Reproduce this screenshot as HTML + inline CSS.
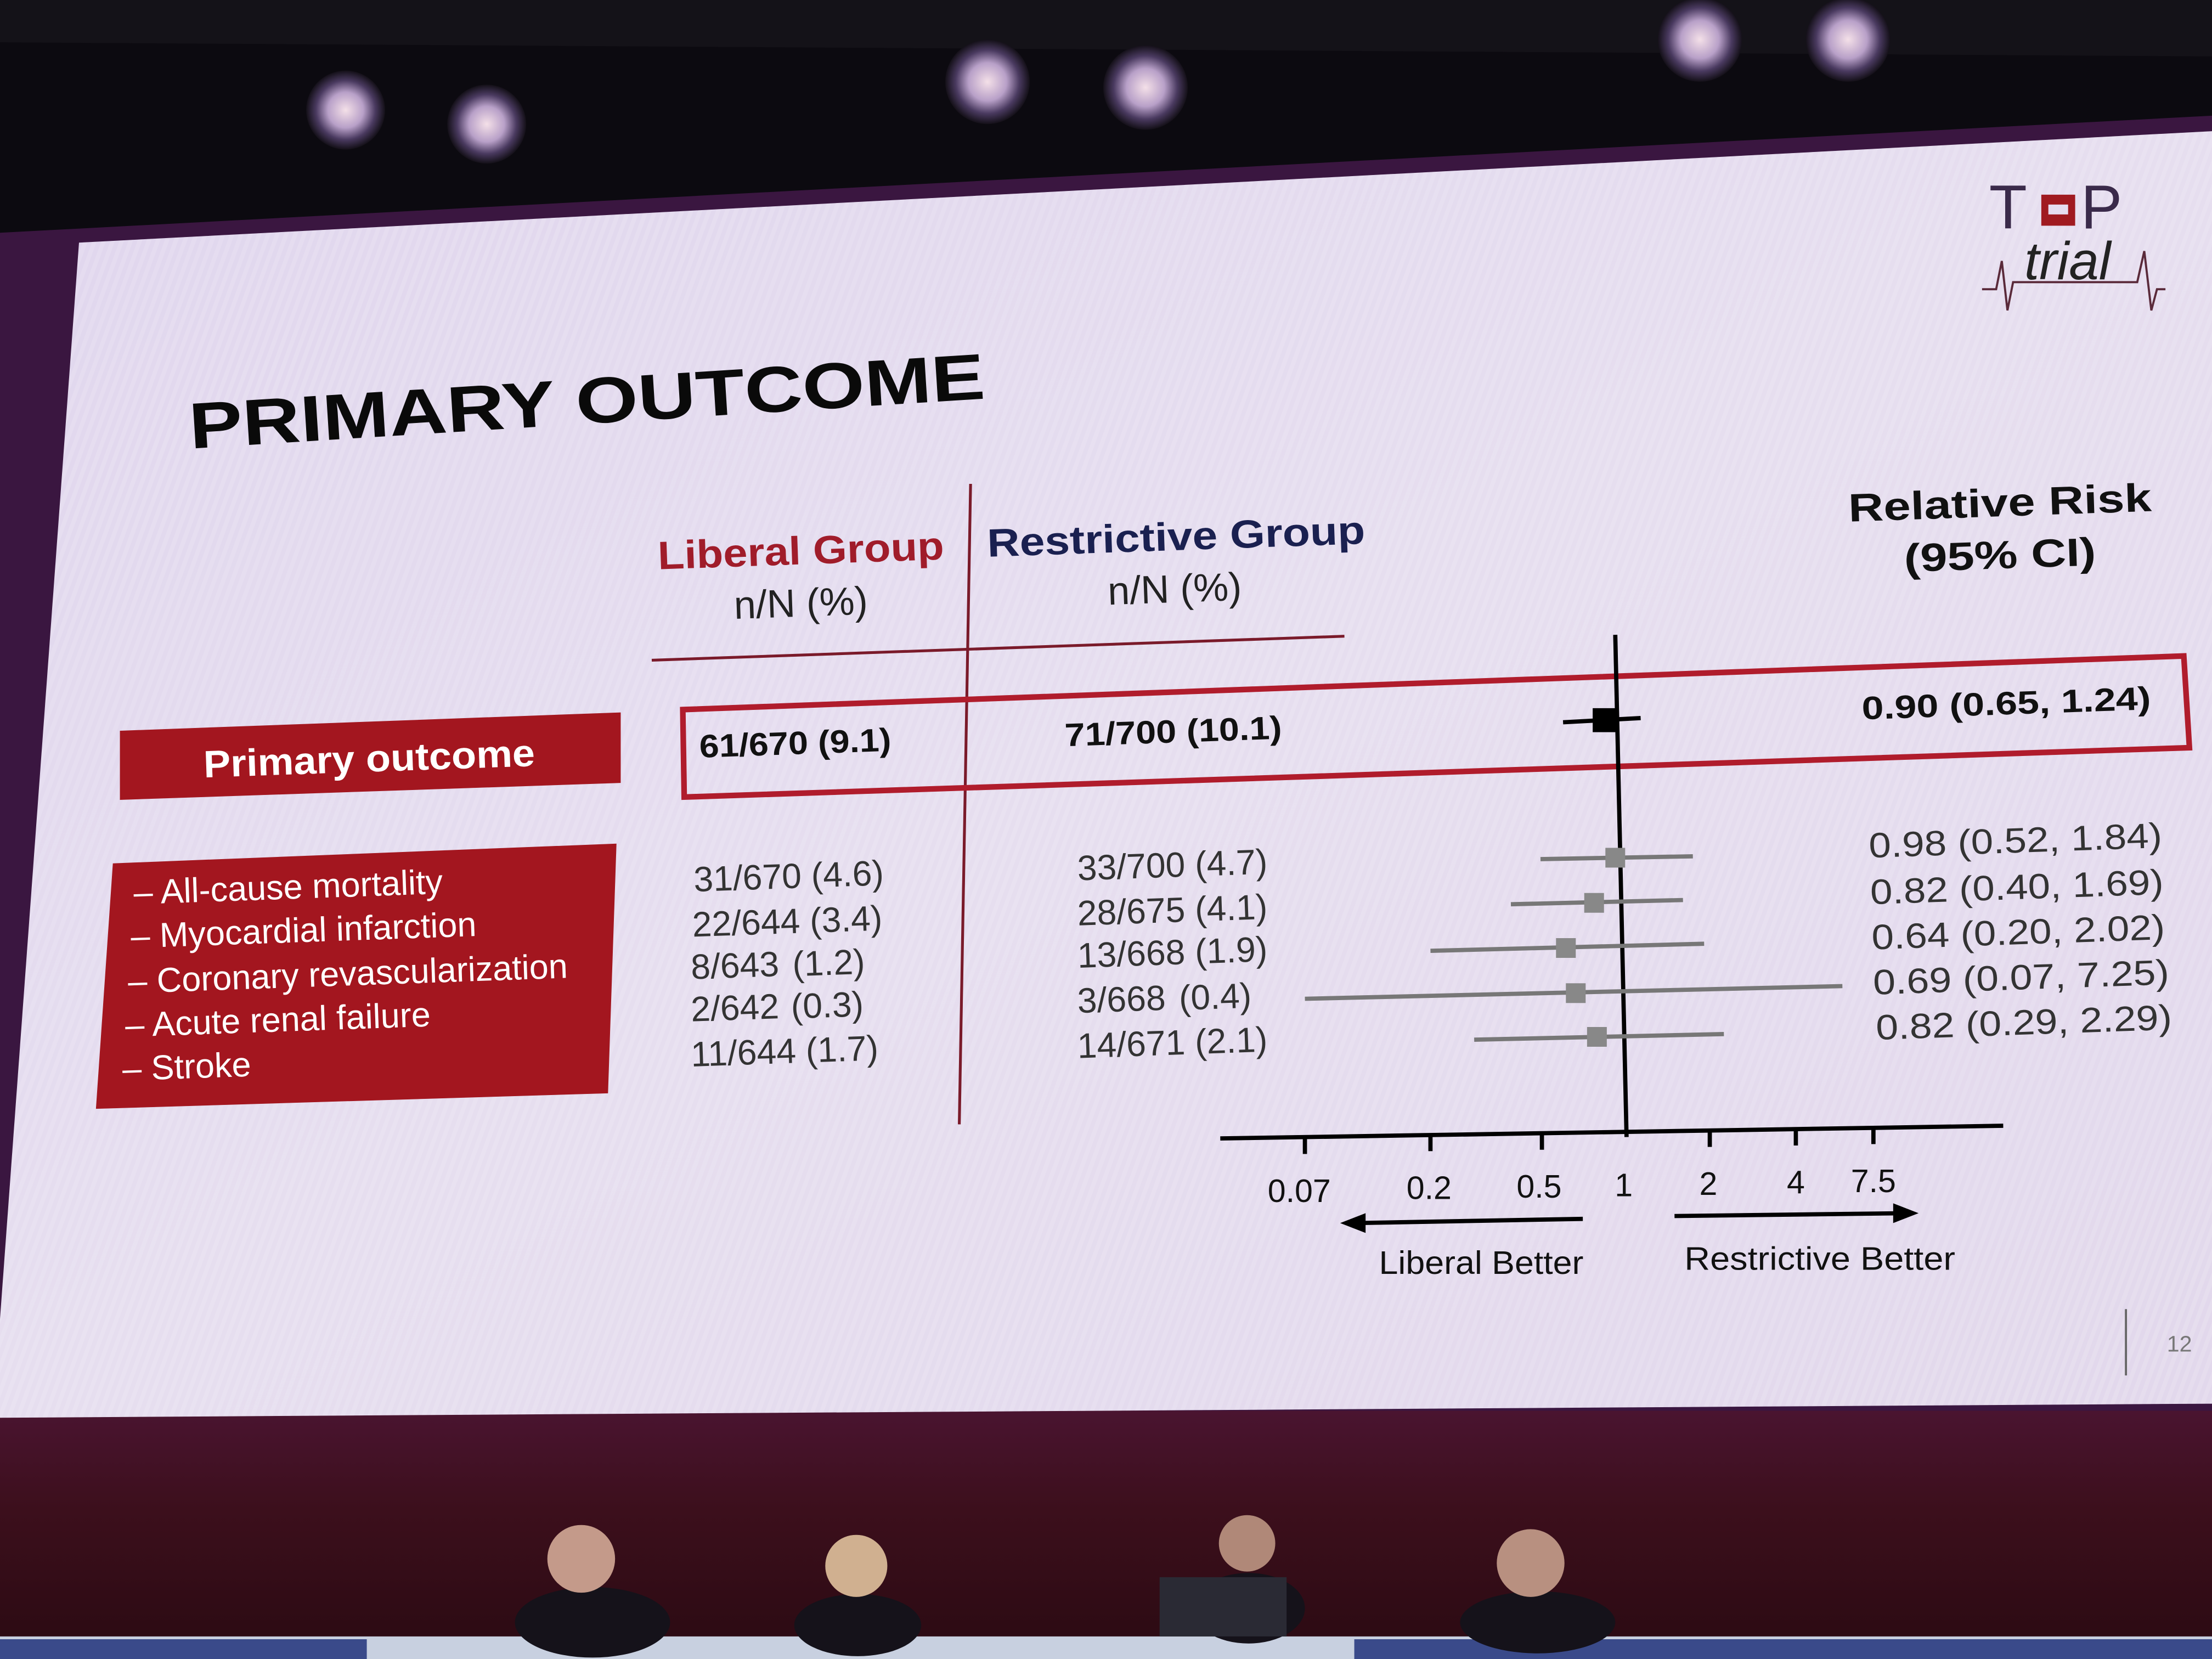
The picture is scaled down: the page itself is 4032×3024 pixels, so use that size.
<!DOCTYPE html>
<html><head><meta charset="utf-8"><style>
html,body{margin:0;padding:0;background:#0c0a10;}
svg{display:block;}
text{font-family:"Liberation Sans",Arial,sans-serif;}
</style></head><body>
<svg width="4032" height="3024" viewBox="0 0 1568 1176" xmlns="http://www.w3.org/2000/svg">
<defs>
<radialGradient id="lt" cx="50%" cy="50%" r="50%"><stop offset="0" stop-color="#f4e0e8"/><stop offset="0.45" stop-color="#b8a0c8"/><stop offset="0.75" stop-color="#4a3a60"/><stop offset="1" stop-color="#141018"/></radialGradient>
<linearGradient id="scr" x1="0" y1="0" x2="1" y2="1"><stop offset="0" stop-color="#e0d6ee"/><stop offset="0.5" stop-color="#e6deef"/><stop offset="1" stop-color="#e2d8ec"/></linearGradient>
<linearGradient id="btm" x1="0" y1="0" x2="0" y2="1"><stop offset="0" stop-color="#4a1430"/><stop offset="0.4" stop-color="#3c0f1c"/><stop offset="1" stop-color="#2a0a12"/></linearGradient>
<pattern id="str" width="6" height="6" patternUnits="userSpaceOnUse" patternTransform="rotate(20)"><rect width="3" height="6" fill="#ffffff" opacity="0.12"/></pattern>
</defs>
<rect width="1568" height="1176" fill="#0c0a10"/>
<polygon points="0,0 1568,0 1568,40 0,30" fill="#141218"/>
<g fill="url(#lt)">
<circle cx="245" cy="78" r="28"/><circle cx="345" cy="88" r="28"/>
<circle cx="700" cy="58" r="30"/><circle cx="812" cy="62" r="30"/>
<circle cx="1205" cy="28" r="30"/><circle cx="1310" cy="28" r="30"/>
</g>
<polygon points="0,165 1568,82 1568,1010 0,1015" fill="#3a1640"/>
<rect x="0" y="1000" width="1568" height="176" fill="url(#btm)"/>
<polygon points="56,172 1568,93 1568,995 0,1005 0,935" fill="url(#scr)"/>
<polygon points="56,172 1568,93 1568,995 0,1005 0,935" fill="url(#str)"/>
<!-- stage -->
<rect x="0" y="1160" width="1568" height="16" fill="#c8d0e0"/>
<rect x="0" y="1162" width="260" height="14" fill="#3a4a8a"/>
<rect x="960" y="1162" width="608" height="14" fill="#3a4a8a"/>
<g fill="#15121a">
<ellipse cx="420" cy="1150" rx="55" ry="25"/><circle cx="412" cy="1105" r="24" fill="#c49a8a"/>
<ellipse cx="608" cy="1152" rx="45" ry="22"/><circle cx="607" cy="1110" r="22" fill="#d0b090"/>
<ellipse cx="885" cy="1140" rx="40" ry="25"/><circle cx="884" cy="1094" r="20" fill="#b08878"/>
<rect x="822" y="1118" width="90" height="42" fill="#2a2a34"/>
<ellipse cx="1090" cy="1150" rx="55" ry="22"/><circle cx="1085" cy="1108" r="24" fill="#b89080"/>
</g>
<!-- logo -->
<g transform="translate(1405,120)">
<text x="5" y="42" font-family="Liberation Serif" font-size="44" fill="#3a2a4a">T</text>
<rect x="42" y="18" width="24" height="22" fill="#a01a20"/><rect x="47" y="25" width="14" height="7" fill="#e6ddf0"/>
<text x="70" y="42" font-family="Liberation Serif" font-size="44" fill="#3a2a4a">P</text>
<text x="30" y="78" font-family="Liberation Serif" font-style="italic" font-size="38" fill="#222">trial</text>
<polyline points="0,85 10,85 14,65 18,100 22,80 110,80 115,58 120,100 124,85 130,85" fill="none" stroke="#5a2a3a" stroke-width="1.5"/>
</g>
<!-- title -->
<text x="135" y="318" font-size="46" font-weight="bold" fill="#0a0a0a" textLength="565" lengthAdjust="spacingAndGlyphs" transform="rotate(-3.6 135 318)">PRIMARY OUTCOME</text>
<!-- headers -->
<g text-anchor="middle" font-size="28">
<text x="568" y="400" font-weight="bold" fill="#a01c2a" transform="rotate(-2 568 400)" textLength="203" lengthAdjust="spacingAndGlyphs">Liberal Group</text>
<text x="568" y="437" fill="#222" transform="rotate(-2 568 437)">n/N (%)</text>
<text x="834" y="390" font-weight="bold" fill="#1a2050" transform="rotate(-2 834 390)" textLength="268" lengthAdjust="spacingAndGlyphs">Restrictive Group</text>
<text x="833" y="427" fill="#222" transform="rotate(-2 833 427)">n/N (%)</text>
<text x="1418" y="366" font-weight="bold" fill="#111" transform="rotate(-2 1418 366)" textLength="215" lengthAdjust="spacingAndGlyphs">Relative Risk</text>
<text x="1418" y="403" font-weight="bold" fill="#111" transform="rotate(-2 1418 403)" textLength="136" lengthAdjust="spacingAndGlyphs">(95% CI)</text>
</g>
<line x1="462" y1="468" x2="953" y2="451" stroke="#7a1a2a" stroke-width="2"/>
<line x1="688" y1="343" x2="680" y2="797" stroke="#7a1a2a" stroke-width="2"/>
<!-- red boxes -->
<polygon points="85,518 440,505 440,555 85,567" fill="#a3161f"/>
<text x="262" y="547" text-anchor="middle" font-size="27" font-weight="bold" fill="#fff" transform="rotate(-2 262 547)" textLength="235" lengthAdjust="spacingAndGlyphs">Primary outcome</text>
<polygon points="80,612 437,598 431,775 68,786" fill="#a3161f"/>
<g font-size="24.5" fill="#fff">
<text x="95" y="641" transform="rotate(-2 95 641)">–  All-cause mortality</text>
<text x="93" y="672" transform="rotate(-2 93 672)">–  Myocardial infarction</text>
<text x="91" y="704" transform="rotate(-2 91 704)">–  Coronary revascularization</text>
<text x="89" y="735" transform="rotate(-2 89 735)">–  Acute renal failure</text>
<text x="87" y="766" transform="rotate(-2 87 766)">–  Stroke</text>
</g>
<polygon points="484,503 1548,465 1552,530 485,565" fill="none" stroke="#b01c2c" stroke-width="4"/>
<g font-size="23" font-weight="bold" fill="#111">
<text x="496" y="537" transform="rotate(-2 496 537)" textLength="136" lengthAdjust="spacingAndGlyphs">61/670 (9.1)</text>
<text x="755" y="529" transform="rotate(-2 755 529)" textLength="154" lengthAdjust="spacingAndGlyphs">71/700 (10.1)</text>
<text x="1320" y="510" transform="rotate(-2 1320 510)" textLength="205" lengthAdjust="spacingAndGlyphs">0.90 (0.65, 1.24)</text>
</g>
<g font-size="25" fill="#333">
<text x="492" y="632" transform="rotate(-2 492 632)">31/670 (4.6)</text>
<text x="491" y="664" transform="rotate(-2 491 664)">22/644 (3.4)</text>
<text x="490" y="694" transform="rotate(-2 490 694)">8/643</text>
<text x="562" y="692" transform="rotate(-2 562 692)">(1.2)</text>
<text x="490" y="724" transform="rotate(-2 490 724)">2/642</text>
<text x="561" y="722" transform="rotate(-2 561 722)">(0.3)</text>
<text x="490" y="756" transform="rotate(-2 490 756)">11/644 (1.7)</text>
<text x="764" y="624" transform="rotate(-2 764 624)">33/700 (4.7)</text>
<text x="764" y="656" transform="rotate(-2 764 656)">28/675 (4.1)</text>
<text x="764" y="686" transform="rotate(-2 764 686)">13/668 (1.9)</text>
<text x="764" y="718" transform="rotate(-2 764 718)">3/668</text>
<text x="836" y="716" transform="rotate(-2 836 716)">(0.4)</text>
<text x="764" y="750" transform="rotate(-2 764 750)">14/671 (2.1)</text>
</g>
<g font-size="25" fill="#333">
<text x="1325" y="608" transform="rotate(-2 1325 608)" textLength="208" lengthAdjust="spacingAndGlyphs">0.98 (0.52, 1.84)</text>
<text x="1326" y="641" transform="rotate(-2 1326 641)" textLength="208" lengthAdjust="spacingAndGlyphs">0.82 (0.40, 1.69)</text>
<text x="1327" y="673" transform="rotate(-2 1327 673)" textLength="208" lengthAdjust="spacingAndGlyphs">0.64 (0.20, 2.02)</text>
<text x="1328" y="705" transform="rotate(-2 1328 705)" textLength="210" lengthAdjust="spacingAndGlyphs">0.69 (0.07, 7.25)</text>
<text x="1330" y="737" transform="rotate(-2 1330 737)" textLength="210" lengthAdjust="spacingAndGlyphs">0.82 (0.29, 2.29)</text>
</g>
<!-- forest -->
<line x1="1145" y1="450" x2="1153" y2="806" stroke="#000" stroke-width="3"/>
<line x1="865" y1="807" x2="1420" y2="798" stroke="#000" stroke-width="3"/>
<g stroke="#000" stroke-width="3">
<line x1="925" y1="806" x2="925" y2="818"/><line x1="1014" y1="805" x2="1014" y2="816"/>
<line x1="1093" y1="803" x2="1093" y2="815"/><line x1="1212" y1="802" x2="1212" y2="813"/>
<line x1="1273" y1="801" x2="1273" y2="812"/><line x1="1328" y1="800" x2="1328" y2="811"/>
</g>
<g font-size="23" fill="#111" text-anchor="middle">
<text x="921" y="852">0.07</text><text x="1013" y="850">0.2</text><text x="1091" y="849">0.5</text>
<text x="1151" y="848">1</text><text x="1211" y="847">2</text><text x="1273" y="846">4</text><text x="1328" y="845">7.5</text>
<text x="1050" y="903" textLength="145" lengthAdjust="spacingAndGlyphs">Liberal Better</text><text x="1290" y="900" textLength="192" lengthAdjust="spacingAndGlyphs">Restrictive Better</text>
</g>
<line x1="1122" y1="864" x2="960" y2="867" stroke="#000" stroke-width="3"/>
<polygon points="950,867 968,860 968,874" fill="#000"/>
<line x1="1187" y1="862" x2="1350" y2="860" stroke="#000" stroke-width="3"/>
<polygon points="1360,860 1342,853 1342,867" fill="#000"/>
<line x1="1108" y1="512" x2="1163" y2="509" stroke="#000" stroke-width="3"/>
<rect x="1129" y="502" width="17" height="17" fill="#000"/>
<g stroke="#777" stroke-width="3">
<line x1="1092" y1="609" x2="1200" y2="607"/><line x1="1071" y1="641" x2="1193" y2="638"/>
<line x1="1014" y1="674" x2="1208" y2="669"/><line x1="925" y1="708" x2="1306" y2="699"/>
<line x1="1045" y1="737" x2="1222" y2="733"/>
</g>
<g fill="#888">
<rect x="1138" y="601" width="14" height="14"/><rect x="1123" y="633" width="14" height="14"/>
<rect x="1103" y="665" width="14" height="14"/><rect x="1110" y="697" width="14" height="14"/>
<rect x="1125" y="728" width="14" height="14"/>
</g>
<line x1="1507" y1="928" x2="1507" y2="975" stroke="#666" stroke-width="1.5"/>
<text x="1536" y="958" font-size="16" fill="#777">12</text>
</svg>
</body></html>
